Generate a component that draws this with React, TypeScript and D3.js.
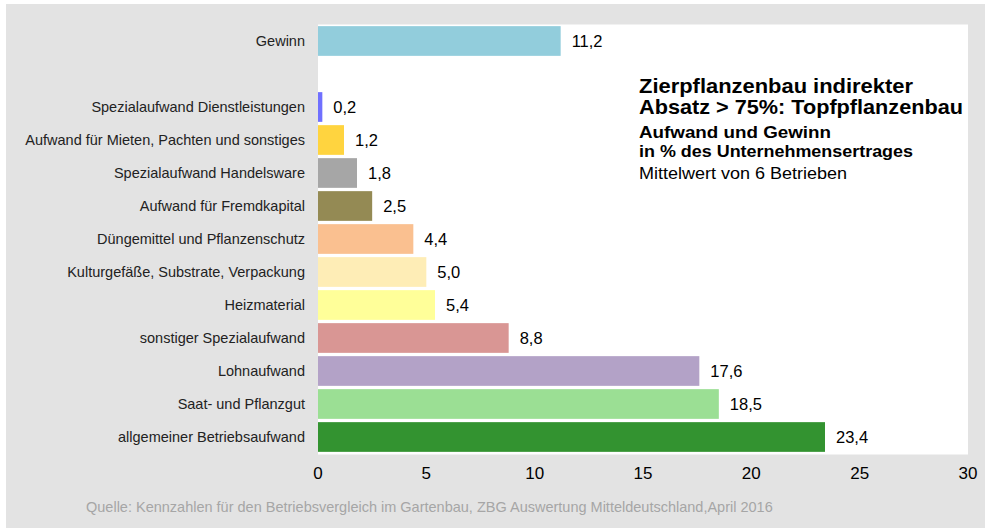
import React from "react";
import * as d3 from "d3";

const categories = [
  "Gewinn",
  "",
  "Spezialaufwand Dienstleistungen",
  "Aufwand für Mieten, Pachten und sonstiges",
  "Spezialaufwand Handelsware",
  "Aufwand für Fremdkapital",
  "Düngemittel und Pflanzenschutz",
  "Kulturgefäße, Substrate, Verpackung",
  "Heizmaterial",
  "sonstiger Spezialaufwand",
  "Lohnaufwand",
  "Saat- und Pflanzgut",
  "allgemeiner Betriebsaufwand",
];
const values: (number | null)[] = [11.2, null, 0.2, 1.2, 1.8, 2.5, 4.4, 5.0, 5.4, 8.8, 17.6, 18.5, 23.4];
const colors = [
  "#92cddc", "none", "#7070ff", "#ffd43f", "#a6a6a6", "#948a54", "#fac090",
  "#feedb6", "#ffff99", "#d99694", "#b3a2c7", "#9bdf94", "#339330",
];
const xTicks = [0, 5, 10, 15, 20, 25, 30];
const titleLines = [
  { text: "Zierpflanzenbau indirekter", size: 20.5, weight: "bold", len: 274 },
  { text: "Absatz > 75%: Topfpflanzenbau", size: 20.5, weight: "bold", len: 324 },
  { text: "Aufwand und Gewinn", size: 16.5, weight: "bold", len: 192 },
  { text: "in % des Unternehmensertrages", size: 16.5, weight: "bold", len: 274 },
  { text: "Mittelwert von 6 Betrieben", size: 16.5, weight: "normal", len: 208 },
];
const source = "Quelle: Kennzahlen für den Betriebsvergleich im Gartenbau, ZBG Auswertung Mitteldeutschland,April 2016";

export default function App() {
  const W = 985, H = 530;
  const left = 318, right = 968, top = 24.5, bottom = 453.5;
  const x = d3.scaleLinear().domain([0, 30]).range([left, right]);
  const y = d3.scaleBand<string>().domain(categories.map((c, i) => i + "")).range([top, bottom]).paddingInner(0.1).paddingOuter(0.05);
  const font = "'Liberation Sans', Arial, sans-serif";
  const fmt = (v: number) => v.toFixed(1).replace(".", ",");
  const titleY = [92.5, 114, 137.5, 157, 178.5];
  return (
    <svg width={W} height={H} style={{ position: "absolute", left: 0, top: 0 }} fontFamily={font}>
      <rect x={0} y={0} width={W} height={H} fill="#ffffff" />
      <rect x={6} y={4} width={W - 6} height={524} fill="#e3e3e3" />
      <rect x={left} y={top} width={right - left} height={bottom - top + 1} fill="#ffffff" />
      {categories.map((c, i) => {
        const v = values[i];
        const yy = y(i + "")!;
        const bw = y.bandwidth();
        return (
          <g key={i}>
            {c && (
              <text x={305} y={yy + bw / 2} dy="0.35em" textAnchor="end" fontSize={14.5} fill="#222">
                {c}
              </text>
            )}
            {v != null && (
              <>
                <rect x={x(0)} y={yy} width={x(v) - x(0)} height={bw} fill={colors[i]} />
                <text x={x(v) + 11} y={yy + bw / 2 + 0.5} dy="0.35em" fontSize={16.5} fill="#000">
                  {fmt(v)}
                </text>
              </>
            )}
          </g>
        );
      })}
      {xTicks.map((t) => (
        <text key={t} x={x(t)} y={479} textAnchor="middle" fontSize={17} fill="#000">
          {t}
        </text>
      ))}
      {titleLines.map((l, i) => (
        <text
          key={i}
          x={639}
          y={titleY[i]}
          fontSize={l.size}
          fontWeight={l.weight}
          fill="#000"
          textLength={l.len}
          lengthAdjust="spacingAndGlyphs"
        >
          {l.text}
        </text>
      ))}
      <text x={86} y={512} fontSize={14.5} fill="#a6a6a6">
        {source}
      </text>
    </svg>
  );
}
